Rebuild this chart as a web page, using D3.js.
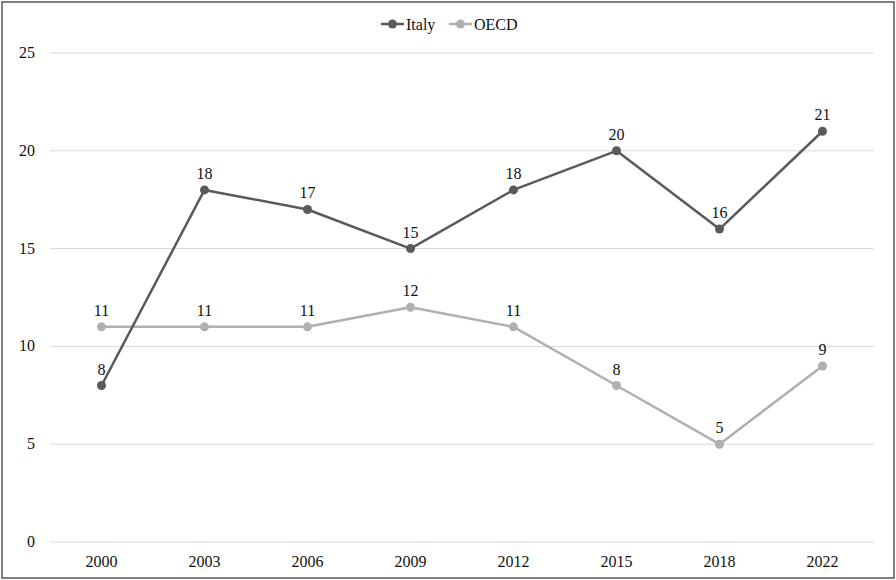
<!DOCTYPE html>
<html>
<head>
<meta charset="utf-8">
<script src="https://cdn.jsdelivr.net/npm/d3@7"></script>
<style>
  html, body { margin: 0; padding: 0; background: #fff; }
  svg { display: block; }
  text { font-family: "Liberation Serif", "Times New Roman", serif; fill: #111; }
</style>
</head>
<body>
<svg id="chart" width="896" height="580"></svg>
<script>
const years = ["2000", "2003", "2006", "2009", "2012", "2015", "2018", "2022"];
const italy = [8, 18, 17, 15, 18, 20, 16, 21];
const oecd = [11, 11, 11, 12, 11, 8, 5, 9];
const yTicks = [0, 5, 10, 15, 20, 25];

const seriesList = [
  { name: "Italy", values: italy, color: "#5a5a5a" },
  { name: "OECD", values: oecd, color: "#b0b0b0" }
];

const W = 896, H = 580;
const FS = 16;
const svg = d3.select("#chart");

// outer frame
svg.append("rect")
  .attr("x", 2).attr("y", 2).attr("width", W - 4).attr("height", H - 4)
  .attr("fill", "#fff").attr("stroke", "#555").attr("stroke-width", 1.5);

const x = d3.scaleBand().domain(years).range([50, 874]);
const y = d3.scaleLinear().domain([0, 25]).range([542, 53]);

// horizontal gridlines
svg.append("g").selectAll("line").data(yTicks).join("line")
  .attr("x1", 50).attr("x2", 874)
  .attr("y1", d => y(d)).attr("y2", d => y(d))
  .attr("stroke", "#d9d9d9").attr("stroke-width", 1);

// y axis labels
svg.append("g").selectAll("text").data(yTicks).join("text")
  .attr("x", 35).attr("y", d => y(d) + 5)
  .attr("text-anchor", "end").attr("font-size", FS)
  .text(d => d);

// x axis labels
svg.append("g").selectAll("text").data(years).join("text")
  .attr("x", d => x(d) + x.bandwidth() / 2).attr("y", 567)
  .attr("text-anchor", "middle").attr("font-size", FS)
  .text(d => d);

const cx = (d, i) => x(years[i]) + x.bandwidth() / 2;
const line = d3.line().x(cx).y(d => y(d));

// OECD drawn first so Italy sits on top
[seriesList[1], seriesList[0]].forEach(s => {
  const g = svg.append("g");
  g.append("path").datum(s.values)
    .attr("d", line).attr("fill", "none")
    .attr("stroke", s.color).attr("stroke-width", 2.5)
    .attr("stroke-linejoin", "round");
  g.selectAll("circle").data(s.values).join("circle")
    .attr("cx", cx).attr("cy", d => y(d)).attr("r", 4.5)
    .attr("fill", s.color);
  g.selectAll("text").data(s.values).join("text")
    .attr("x", cx).attr("y", d => y(d) - 11)
    .attr("text-anchor", "middle").attr("font-size", FS)
    .text(d => d);
});

// legend
const legend = svg.append("g");
const legendItems = [
  { s: seriesList[0], x0: 381, tx: 406 },
  { s: seriesList[1], x0: 449, tx: 474 }
];
legendItems.forEach(it => {
  legend.append("line")
    .attr("x1", it.x0).attr("x2", it.x0 + 23)
    .attr("y1", 24).attr("y2", 24)
    .attr("stroke", it.s.color).attr("stroke-width", 2.5);
  legend.append("circle")
    .attr("cx", it.x0 + 11.5).attr("cy", 24).attr("r", 4.5)
    .attr("fill", it.s.color);
  legend.append("text")
    .attr("x", it.tx).attr("y", 30).attr("font-size", FS)
    .text(it.s.name);
});
</script>
</body>
</html>
